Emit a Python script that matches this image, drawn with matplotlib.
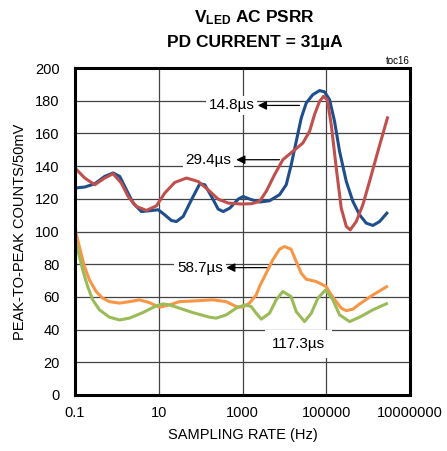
import numpy as np
import matplotlib
matplotlib.use("Agg")
import matplotlib.pyplot as plt
from matplotlib import font_manager

# Data (x in Hz, y in counts).
blue_x = [0.1, 0.171, 0.296, 0.513, 0.813, 1.17, 1.69, 2.44, 3.86, 6.70, 9.68, 13.9,
          20.1, 26.5, 38.3, 60.4, 95.5, 125.7, 181.6, 262.4, 346, 497, 789, 1040, 1494,
          2547, 4417, 7660, 11070, 14590, 19190, 25290, 33270, 47860, 69180, 91000,
          120000, 157800, 208000, 301000, 432500, 625000, 903000, 1.30e6, 1.88e6, 2.96e6]
blue_y = [126.6, 127.2, 129.2, 133.7, 135.8, 133.7, 125.5, 117.4, 112.2, 112.8, 113.3,
          110.2, 106.7, 106.1, 109.2, 119.4, 129.2, 128.6, 121.4, 113.7, 112.2, 114.3,
          119.8, 121.4, 119.8, 118.0, 118.8, 122.5, 128.6, 140.9, 155.1, 169.4, 178.6,
          183.7, 186.2, 185.4, 180.6, 167.4, 149.0, 130.6, 118.4, 110.2, 105.1, 103.7,
          106.1, 111.9]

red_x = [0.1, 0.171, 0.296, 0.513, 0.813, 1.28, 1.86, 2.93, 5.08, 8.81, 13.9, 24.1, 45.9,
         87.3, 151, 262, 455, 946, 1640, 2547, 3680, 5820, 9190, 15920, 27600, 39900,
         52500, 69180, 86300, 105700, 131800, 173400, 228000, 301000, 374000, 521000,
         750000, 1.08e6, 1.71e6, 2.96e6]
red_y = [138.8, 132.7, 128.6, 132.7, 135.3, 129.6, 121.4, 115.3, 112.9, 115.7, 123.5,
         130.0, 132.7, 130.6, 125.5, 119.8, 117.4, 116.8, 117.0, 118.4, 124.5, 134.7,
         143.9, 149.0, 154.1, 161.2, 171.5, 179.6, 182.7, 180.6, 165.3, 138.8, 114.3,
         103.1, 101.0, 106.1, 116.4, 130.6, 149.0, 170.4]

orange_x = [0.1, 0.106, 0.127, 0.168, 0.221, 0.319, 0.459, 0.664, 1.15, 1.99, 3.46, 6.0,
            10.4, 18.0, 31.3, 78.3, 195, 408, 706, 1017, 1470, 2125, 2547, 5300, 7660,
            10100, 14420, 19190, 25290, 33270, 57700, 100000, 131800, 173000, 228000,
            301000, 432500, 625000, 1.30e6, 2.96e6]
orange_y = [104.1, 99.0, 90.8, 78.6, 70.4, 63.3, 59.2, 57.1, 56.2, 57.1, 58.2, 56.5, 53.7,
            55.1, 57.1, 57.6, 58.2, 57.1, 54.1, 53.7, 56.2, 61.2, 66.3, 82.7, 89.2, 90.8,
            89.2, 81.6, 74.5, 70.8, 69.4, 66.3, 61.2, 57.1, 53.1, 51.6, 52.5, 55.7, 61.2,
            66.7]

green_x = [0.1, 0.116, 0.153, 0.201, 0.265, 0.383, 0.664, 1.15, 1.99, 4.15, 8.67, 12.5,
           18.0, 31.3, 64.9, 163, 235, 408, 706, 1117, 1614, 2125, 2800, 4417, 6380, 9190,
           14420, 19190, 30300, 43900, 63000, 96200, 143900, 208000, 361000, 625000,
           1.30e6, 2.96e6]
green_y = [96.0, 88.8, 76.5, 66.3, 58.2, 52.1, 47.6, 45.9, 47.0, 50.4, 54.5, 55.7, 55.1,
           53.1, 50.4, 47.6, 47.0, 49.0, 53.1, 55.1, 54.1, 50.0, 46.4, 50.0, 58.2, 63.3,
           60.2, 51.0, 44.9, 50.0, 59.2, 64.3, 58.2, 49.0, 44.9, 47.6, 52.1, 56.2]

x_ticks = [0.1, 10, 1000, 100000, 10000000]
x_tick_labels = ["0.1", "10", "1000", "100000", "10000000"]
y_ticks = list(range(0, 201, 20))

# fonts
names = {f.name for f in font_manager.fontManager.ttflist}
narrow = "Liberation Sans Narrow" if "Liberation Sans Narrow" in names else "Liberation Sans"
plt.rcParams["font.family"] = ["Liberation Sans", "DejaVu Sans"]
plt.rcParams["mathtext.fontset"] = "custom"
plt.rcParams["mathtext.rm"] = narrow + ":bold"
plt.rcParams["mathtext.it"] = narrow + ":bold"
plt.rcParams["mathtext.bf"] = narrow + ":bold"

fig = plt.figure(figsize=(4.47, 4.51), dpi=100)
ax = fig.add_axes([75 / 447, 1 - 395 / 451, 335 / 447, 327 / 451])

lw = 2.2
style = dict(lw=lw, solid_capstyle="butt", solid_joinstyle="round")
ax.plot(blue_x, blue_y, color="#1F4E8C", zorder=4, **style)
ax.plot(red_x, red_y, color="#C0504D", zorder=5, **style)
ax.plot(orange_x, orange_y, color="#F79646", zorder=4, **style)
ax.plot(green_x, green_y, color="#9BBB59", zorder=5, **style)

ax.set_xscale("log")
ax.set_xlim(0.1, 1e7)
ax.set_ylim(0, 200)
ax.set_xticks(x_ticks)
ax.set_xticklabels(x_tick_labels)
ax.minorticks_off()
ax.set_yticks(y_ticks)
ax.tick_params(axis="both", length=0, labelsize=10.5)
ax.tick_params(axis="y", pad=11)
ax.tick_params(axis="x", pad=8)
ax.grid(True, color="#444444", lw=0.9)
ax.set_axisbelow(True)
for s in ax.spines.values():
    s.set_linewidth(2.2)
    s.set_zorder(6)

ax.set_xlabel("SAMPLING RATE (Hz)", fontsize=10.5, labelpad=6)
ax.set_ylabel("PEAK-TO-PEAK COUNTS/50mV", fontsize=10.5, labelpad=6)

# annotations
box = dict(facecolor="white", edgecolor="none", pad=2)
arrow = dict(arrowstyle="-|>", color="black", lw=0.9, mutation_scale=13,
             shrinkA=0, shrinkB=0)
labels = [("14.8µs", 1940, 177.1, 2320, 23000, 177.1),
          ("29.4µs", 537, 143.9, 708, 7660, 143.9),
          ("58.7µs", 339, 77.9, 408, 4420, 77.9)]
for txt, tx, ty, hx, tailx, ay in labels:
    ax.annotate("", xy=(hx, ay), xytext=(tailx, ay), arrowprops=arrow, zorder=3)
    ax.text(tx, ty, txt, ha="right", va="center", fontsize=11, bbox=box, zorder=3)
ax.text(21800, 31.4, "117.3µs", ha="center", va="center", fontsize=11,
        bbox=dict(facecolor="white", edgecolor="none", pad=5), zorder=3)

fig.text(410 / 447, 1 - 66 / 451, "toc16", ha="right", va="bottom", fontsize=7)
fig.text(255 / 447, 1 - 18 / 451, r"V$_{\mathrm{LED}}$ AC PSRR", ha="center", va="center",
         fontsize=12.5, fontweight="bold", family=narrow)
fig.text(255 / 447, 1 - 42 / 451, "PD CURRENT = 31µA", ha="center", va="center",
         fontsize=12.5, fontweight="bold", family=narrow)

fig.savefig("out.png", dpi=100)
